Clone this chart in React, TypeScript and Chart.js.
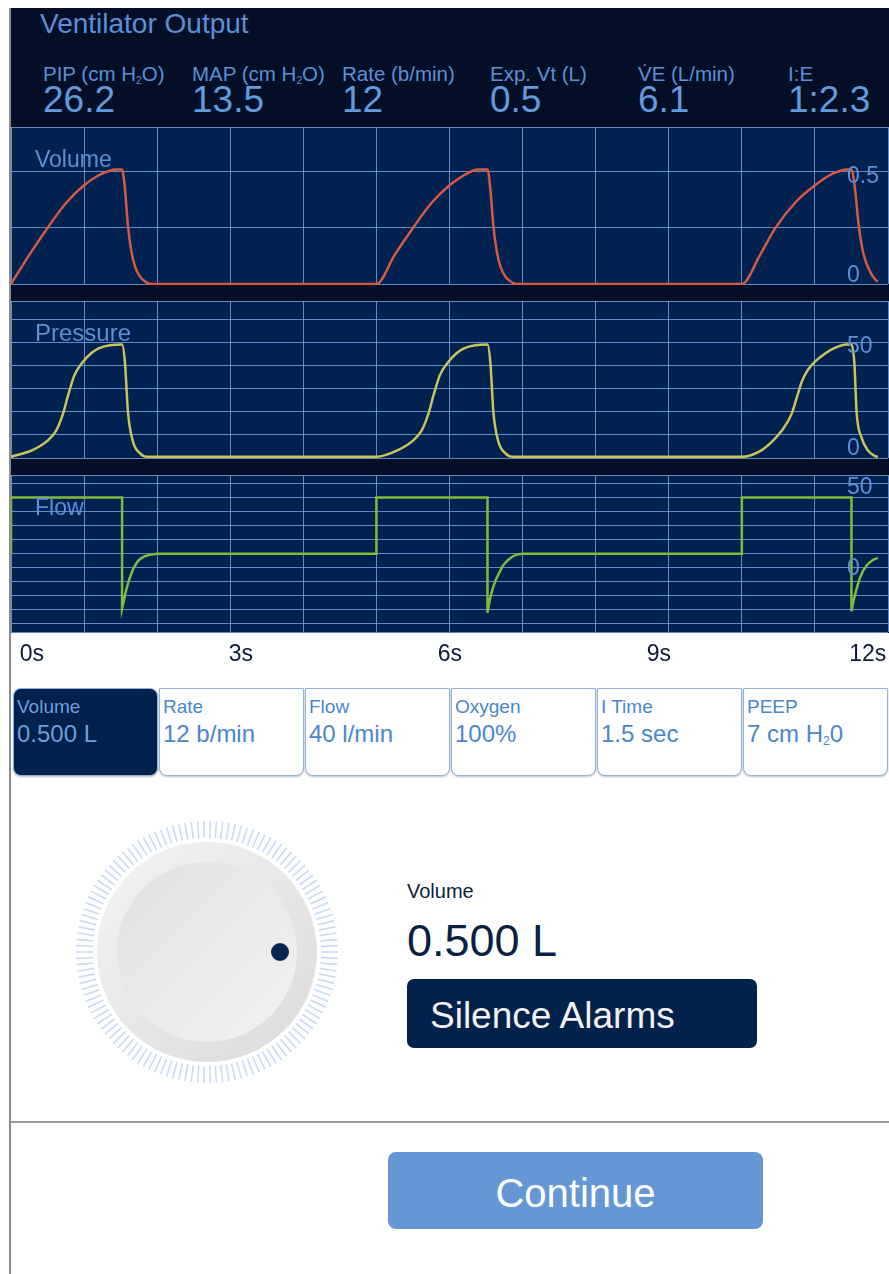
import React, { useEffect, useRef } from "react";
import { Chart, registerables } from "chart.js";
Chart.register(...registerables);

// ---------- DATA ----------
const timeGrid = [0, 1, 2, 3, 4, 5, 6, 7, 8, 9, 10, 11, 12];
const timeLabelValues = [0, 3, 6, 9, 12];
const timeLabelTexts = ["0s", "3s", "6s", "9s", "12s"];

const volumeTimes = [
  0, 0.25, 0.5, 0.75, 1.0, 1.2, 1.35, 1.42, 1.52, 1.56, 1.6, 1.65, 1.7, 1.76, 1.84, 1.92,
  5.0, 5.25, 5.5, 5.75, 6.0, 6.2, 6.32, 6.38, 6.52, 6.56, 6.6, 6.65, 6.7, 6.76, 6.84, 6.92,
  10.0, 10.25, 10.46, 10.75, 11.0, 11.2, 11.35, 11.43, 11.5, 11.55, 11.6, 11.66, 11.72, 11.79, 11.86,
];
const volumeValues = [
  0, 0.13, 0.25, 0.36, 0.44, 0.485, 0.505, 0.51, 0.51, 0.42, 0.26, 0.14, 0.075, 0.035, 0.01, 0,
  0, 0.13, 0.25, 0.36, 0.44, 0.485, 0.505, 0.51, 0.51, 0.42, 0.26, 0.14, 0.075, 0.035, 0.01, 0,
  0, 0.13, 0.25, 0.37, 0.44, 0.485, 0.505, 0.51, 0.51, 0.42, 0.26, 0.14, 0.08, 0.035, 0.01,
];

const pressureTimes = [
  0, 0.3, 0.5, 0.62, 0.71, 0.78, 0.87, 0.98, 1.1, 1.2, 1.35, 1.52, 1.56, 1.6, 1.67, 1.76, 1.86,
  5.0, 5.3, 5.5, 5.62, 5.71, 5.78, 5.87, 5.98, 6.1, 6.2, 6.35, 6.52, 6.56, 6.6, 6.67, 6.76, 6.86,
  10.0, 10.25, 10.41, 10.55, 10.68, 10.76, 10.82, 10.9, 11.0, 11.15, 11.28, 11.43, 11.5, 11.54, 11.57, 11.64, 11.72, 11.8, 11.86,
];
const pressureValues = [
  0.5, 3.5, 7.5, 12, 19, 27, 36, 41.5, 45.5, 47.5, 48.8, 49.2, 41, 20, 7, 2.2, 0.5,
  0.5, 3.5, 7.5, 12, 19, 27, 36, 41.5, 45.5, 47.5, 48.8, 49.2, 41, 20, 7, 2.2, 0.5,
  0.5, 3, 7, 12, 19, 27, 33, 38, 41.7, 45.5, 47.8, 49.2, 49.2, 41, 20, 8.7, 3.5, 1.2, 0.4,
];

const flowTimes = [
  0, 0, 1.52, 1.52, 1.55, 1.58, 1.62, 1.67, 1.72, 1.76, 1.83, 1.9, 2.0,
  5.0, 5.0, 6.52, 6.52, 6.55, 6.59, 6.63, 6.68, 6.73, 6.79, 6.86, 6.93, 7.0,
  10.0, 10.0, 11.5, 11.5, 11.53, 11.57, 11.61, 11.66, 11.72, 11.79, 11.86,
];
const flowValues = [
  0, 40, 40, -39, -32, -25, -18, -11, -6.5, -4, -1.8, -0.7, 0,
  0, 40, 40, -42, -33, -25, -19, -13.6, -8.5, -5, -2, -0.5, 0,
  0, 40, 40, -41, -33, -25, -18, -12, -7.5, -4.5, -3,
];

const volumeGrid = [0, 0.25, 0.5, 0.7];
const pressureGrid = [0, 10, 20, 30, 40, 50, 60, 68];
const flowGrid = [-56, -50, -40, -30, -20, -10, 0, 10, 20, 30, 40, 50, 56];

const volumeLabelValues = [0.5, 0];
const volumeLabelTexts = ["0.5", "0"];
const pressureLabelValues = [50, 0];
const pressureLabelTexts = ["50", "0"];
const flowLabelValues = [50, 0];
const flowLabelTexts = ["50", "0"];

const headerLabels = ["PIP (cm H_2O)", "MAP (cm H_2O)", "Rate (b/min)", "Exp. Vt (L)", "V\u0307E (L/min)", "I:E"];
const headerValues = ["26.2", "13.5", "12", "0.5", "6.1", "1:2.3"];

const settingNames = ["Volume", "Rate", "Flow", "Oxygen", "I Time", "PEEP"];
const settingValues = ["0.500 L", "12 b/min", "40 l/min", "100%", "1.5 sec", "7 cm H_20"];

// ---------- STYLE ----------
const FONT = '"Liberation Sans", Arial, Helvetica, sans-serif';
const NAVY_DARK = "#020f26";
const NAVY_PLOT = "#012150";
const GRID = "rgba(112,158,222,0.85)";
const TEXT_BLUE = "#5b8fd6";
const headerLefts = [43, 192, 342, 490, 638, 788];
const volumeLabelDy = [11, -2];
const pressureLabelDy = [10, -3];
const flowLabelDy = [11, 21];
// the time labels sit on their own, slightly compressed label axis
const timeLabelAxisMin = -0.3;
const timeLabelAxisMax = 12.29;

function withSub(s: string) {
  const parts = s.split("_2");
  if (parts.length < 2) return s;
  return (
    <>
      {parts[0]}
      <span style={{ fontSize: "0.5em", verticalAlign: "-0.25em", lineHeight: 1 }}>2</span>
      {parts[1]}
    </>
  );
}

const decorPlugin = {
  id: "panelDecor",
  beforeDraw(chart: any, _args: any, opts: any) {
    const { ctx, chartArea: a } = chart;
    ctx.save();
    ctx.fillStyle = opts.bg;
    ctx.fillRect(a.left, a.top, a.right - a.left, a.bottom - a.top);
    ctx.restore();
  },
  afterDraw(chart: any, _args: any, opts: any) {
    const { ctx, chartArea: a } = chart;
    const y = chart.scales.y;
    ctx.save();
    ctx.fillStyle = TEXT_BLUE;
    ctx.textBaseline = "alphabetic";
    ctx.textAlign = "left";
    ctx.font = `${opts.titleSize}px ${FONT}`;
    ctx.fillText(opts.title, a.left + 24, a.top + 40);
    ctx.font = `23px ${FONT}`;
    opts.labelValues.forEach((v: number, i: number) => {
      ctx.fillText(opts.labelTexts[i], a.left + 836, y.getPixelForValue(v) + opts.labelDy[i]);
    });
    ctx.restore();
  },
};

type PanelProps = {
  top: number;
  height: number;
  times: number[];
  values: number[];
  color: string;
  grid: number[];
  title: string;
  titleSize: number;
  labelValues: number[];
  labelTexts: string[];
  labelDy: number[];
  showTime: boolean;
  smooth: boolean;
};

const zeroSidePadding = (s: any) => {
  s.paddingLeft = 0;
  s.paddingRight = 0;
};

function Panel(p: PanelProps) {
  const ref = useRef<HTMLCanvasElement | null>(null);
  useEffect(() => {
    if (!ref.current) return;
    const pts = p.times.map((t, i) => ({ x: t, y: p.values[i] }));
    const scales: any = {
      x: {
        type: "linear",
        min: timeGrid[0],
        max: timeGrid[timeGrid.length - 1],
        afterBuildTicks: (s: any) => {
          s.ticks = timeGrid.map((v) => ({ value: v }));
        },
        afterFit: zeroSidePadding,
        grid: { color: GRID, lineWidth: 1, drawTicks: false },
        border: { display: false },
        ticks: { display: false },
      },
      y: {
        type: "linear",
        position: "right",
        min: p.grid[0],
        max: p.grid[p.grid.length - 1],
        afterBuildTicks: (s: any) => {
          s.ticks = p.grid.map((v) => ({ value: v }));
        },
        grid: { color: GRID, lineWidth: 1, drawTicks: false },
        border: { display: false },
        ticks: { display: false },
      },
    };
    if (p.showTime) {
      scales.xTime = {
        type: "linear",
        position: "bottom",
        min: timeLabelAxisMin,
        max: timeLabelAxisMax,
        afterBuildTicks: (s: any) => {
          s.ticks = timeLabelValues.map((v) => ({ value: v }));
        },
        afterFit: zeroSidePadding,
        grid: { display: false, drawTicks: false },
        border: { display: false },
        ticks: {
          autoSkip: false,
          maxRotation: 0,
          padding: 8,
          color: "#0d1b33",
          font: { family: FONT, size: 23 },
          callback: (v: any) => {
            const i = timeLabelValues.indexOf(Number(v));
            return i >= 0 ? timeLabelTexts[i] : "";
          },
        },
      };
    }
    const chart = new Chart(ref.current, {
      type: "line",
      data: {
        datasets: [
          {
            data: pts,
            borderColor: p.color,
            borderWidth: 2.5,
            pointRadius: 0,
            fill: false,
            tension: 0,
            cubicInterpolationMode: p.smooth ? "monotone" : "default",
            clip: false as any,
          } as any,
        ],
      },
      options: {
        animation: false,
        responsive: false,
        maintainAspectRatio: false,
        layout: { padding: { left: 0, right: 1, top: 0, bottom: p.showTime ? 0 : 1 } },
        plugins: {
          legend: { display: false },
          tooltip: { enabled: false },
          panelDecor: {
            bg: NAVY_PLOT,
            title: p.title,
            titleSize: p.titleSize,
            labelValues: p.labelValues,
            labelTexts: p.labelTexts,
            labelDy: p.labelDy,
          },
        } as any,
        scales,
      } as any,
      plugins: [decorPlugin as any],
    });
    return () => chart.destroy();
  }, []);
  return (
    <canvas
      ref={ref}
      width={878}
      height={p.height}
      style={{ position: "absolute", left: 11, top: p.top, width: 878, height: p.height }}
    />
  );
}

function Knob() {
  const N = 130;
  const ticks = Array.from({ length: N }, (_, i) => {
    const a = (i / N) * Math.PI * 2;
    return (
      <line
        key={i}
        x1={135 + Math.cos(a) * 114}
        y1={135 + Math.sin(a) * 114}
        x2={135 + Math.cos(a) * 131}
        y2={135 + Math.sin(a) * 131}
        stroke="#cbdbf1"
        strokeWidth={1.6}
      />
    );
  });
  return (
    <svg width={270} height={270} style={{ position: "absolute", left: 72, top: 817 }}>
      <defs>
        <linearGradient id="outerG" x1="0" y1="0" x2="1" y2="1">
          <stop offset="0" stopColor="#f4f4f4" />
          <stop offset="1" stopColor="#dadada" />
        </linearGradient>
        <linearGradient id="innerG" x1="0" y1="0" x2="1" y2="1">
          <stop offset="0" stopColor="#e1e1e1" />
          <stop offset="1" stopColor="#f2f2f2" />
        </linearGradient>
      </defs>
      {ticks}
      <circle cx={135} cy={135} r={110} fill="url(#outerG)" />
      <circle cx={135} cy={135} r={90} fill="url(#innerG)" />
      <circle cx={208} cy={135} r={9} fill="#0a2552" />
    </svg>
  );
}

export default function App() {
  const abs = (o: any) => ({ position: "absolute" as const, lineHeight: 1, whiteSpace: "nowrap" as const, ...o });
  return (
    <div
      style={{
        position: "absolute",
        left: 0,
        top: 0,
        width: 889,
        height: 1274,
        background: "#ffffff",
        overflow: "hidden",
        fontFamily: FONT,
      }}
    >
      <div style={{ position: "absolute", left: 9, top: 8, width: 2, height: 1266, background: "#8c8c8c" }} />
      <div style={{ position: "absolute", left: 11, top: 8, width: 878, height: 625, background: NAVY_DARK }} />

      <div style={abs({ left: 40, top: 9.5, fontSize: 28, color: TEXT_BLUE })}>Ventilator Output</div>
      {headerLabels.map((l, i) => (
        <div key={"hl" + i} style={abs({ left: headerLefts[i], top: 64, fontSize: 20.5, color: TEXT_BLUE })}>
          {withSub(l)}
        </div>
      ))}
      {headerValues.map((v, i) => (
        <div key={"hv" + i} style={abs({ left: headerLefts[i], top: 81, fontSize: 37, color: "#629adf" })}>
          {v}
        </div>
      ))}

      <Panel
        top={127}
        height={158}
        times={volumeTimes}
        values={volumeValues}
        color="#d65a3f"
        grid={volumeGrid}
        title="Volume"
        titleSize={23}
        labelValues={volumeLabelValues}
        labelTexts={volumeLabelTexts}
        labelDy={volumeLabelDy}
        showTime={false}
        smooth={true}
      />
      <Panel
        top={301}
        height={158}
        times={pressureTimes}
        values={pressureValues}
        color="#cbc35a"
        grid={pressureGrid}
        title="Pressure"
        titleSize={24}
        labelValues={pressureLabelValues}
        labelTexts={pressureLabelTexts}
        labelDy={pressureLabelDy}
        showTime={false}
        smooth={true}
      />
      <Panel
        top={475}
        height={201}
        times={flowTimes}
        values={flowValues}
        color="#80bb3c"
        grid={flowGrid}
        title="Flow"
        titleSize={23}
        labelValues={flowLabelValues}
        labelTexts={flowLabelTexts}
        labelDy={flowLabelDy}
        showTime={true}
        smooth={false}
      />

      {settingNames.map((n, i) => {
        const sel = i === 0;
        return (
          <div
            key={"tab" + i}
            style={{
              position: "absolute",
              left: 13 + i * 146,
              top: 688,
              width: 145,
              height: 88,
              boxSizing: "border-box",
              border: "1.5px solid #8fb4e2",
              borderRadius: sel ? "8px" : "0 0 8px 8px",
              background: sel ? "#01214d" : "#ffffff",
              boxShadow: "0 1px 2px rgba(0,0,0,0.25)",
            }}
          >
            <div style={abs({ left: 3, top: 8, fontSize: 19, color: sel ? "#6f9fda" : "#4a86cd" })}>{n}</div>
            <div style={abs({ left: 3, top: 33, fontSize: 24, color: sel ? "#6f9fda" : "#4a86cd" })}>
              {withSub(settingValues[i])}
            </div>
          </div>
        );
      })}

      <Knob />

      <div style={abs({ left: 407, top: 881, fontSize: 20, color: "#0c1e3c" })}>Volume</div>
      <div style={abs({ left: 407, top: 918, fontSize: 45, color: "#0a1f44" })}>0.500 L</div>
      <div
        style={{
          position: "absolute",
          left: 407,
          top: 979,
          width: 350,
          height: 69,
          background: "#02214b",
          borderRadius: 7,
        }}
      />
      <div style={abs({ left: 430, top: 997, fontSize: 37, color: "#f2f2f2" })}>Silence Alarms</div>

      <div style={{ position: "absolute", left: 10, top: 1121, width: 879, height: 2, background: "#9a9a9a" }} />
      <div
        style={{
          position: "absolute",
          left: 388,
          top: 1152,
          width: 375,
          height: 77,
          background: "#6497d4",
          borderRadius: 8,
        }}
      />
      <div style={abs({ left: 388, width: 375, textAlign: "center", top: 1173, fontSize: 40, color: "#ffffff" })}>
        Continue
      </div>
    </div>
  );
}
